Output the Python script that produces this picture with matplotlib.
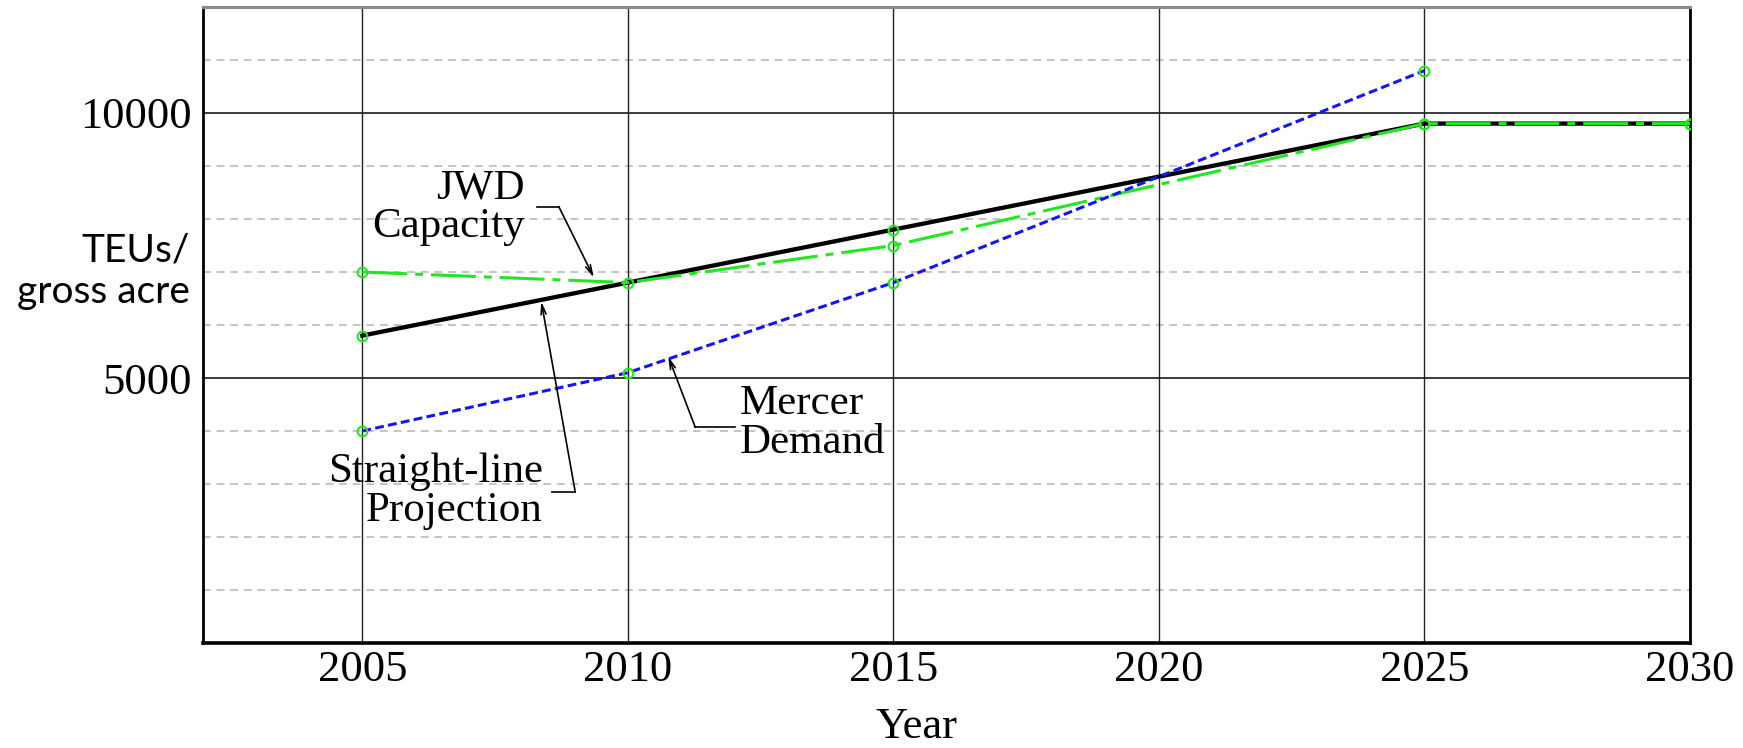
import numpy as np
import matplotlib.pyplot as plt

# data
straight_years = [2005, 2015, 2025, 2030]
straight_vals = [5800, 7800, 9800, 9800]
jwd_years = [2005, 2010, 2015, 2025, 2030]
jwd_vals = [7000, 6800, 7500, 9800, 9800]
mercer_years = [2005, 2010, 2015, 2025]
mercer_vals = [4000, 5100, 6800, 10800]

year_ticks = [2005, 2010, 2015, 2020, 2025, 2030]
value_ticks = [5000, 10000]
minor_grid = [1000, 2000, 3000, 4000, 6000, 7000, 8000, 9000, 11000]

serif = 'Liberation Serif'
green = '#22e622'

fig = plt.figure(figsize=(17.43, 7.48), dpi=100)
W, H = 1743, 748
ax = fig.add_axes([203 / W, 1 - 643 / H, (1690 - 203) / W, (643 - 7) / H])
ax.set_xlim(2002, 2030)
ax.set_ylim(0, 12000)

# grid
for v in minor_grid:
    ax.axhline(v, color='#c4c4c4', lw=1.4, ls=(0, (4, 3)), zorder=1)
for v in value_ticks:
    ax.axhline(v, color='#3a3a3a', lw=1.4, zorder=1)
for y in year_ticks:
    ax.axvline(y, color='#222222', lw=1.0, zorder=1)

# series
mk = dict(marker='o', ms=7, mfc='none', mec=green, mew=1.5)
ax.plot(straight_years, straight_vals, color='black', lw=3.1, zorder=3, **mk)
ax.plot(jwd_years, jwd_vals, color=green, lw=2.2, ls=(0, (14.7, 2.6, 2.6, 2.6)),
        zorder=4, **mk)
ax.plot(mercer_years, mercer_vals, color='#1515ee', lw=2.2, ls=(0, (2.9, 1.4)),
        zorder=5, **mk)

# spines
for s in ['left', 'right']:
    ax.spines[s].set_linewidth(2)
    ax.spines[s].set_color('black')
ax.spines['bottom'].set_linewidth(2.6)
ax.spines['top'].set_linewidth(2.2)
ax.spines['top'].set_color('#8a8a8a')

ax.set_xticks(year_ticks)
ax.set_xticklabels([str(y) for y in year_ticks], fontfamily=serif, fontsize=32)
ax.set_yticks(value_ticks)
ax.set_yticklabels([str(v) for v in value_ticks], fontfamily=serif, fontsize=32)
ax.tick_params(axis='x', length=0, pad=5)
ax.tick_params(axis='y', length=0, pad=8)

fig.text(917 / W, 1 - 727 / H, 'Year', ha='center', va='center',
         fontfamily=serif, fontsize=32)
fig.text(190 / W, 1 - 271 / H, 'TEUs/\ngross acre', ha='right', va='center',
         multialignment='right', fontfamily='Lato', fontsize=28, linespacing=1.2)

# labels with leader lines
arrow = dict(arrowstyle='->,head_length=0.7,head_width=0.18', color='black', lw=1.2,
             shrinkA=0, shrinkB=0)
tkw = dict(fontfamily=serif, fontsize=31, linespacing=1.0, zorder=6)

ax.text(2008.06, 8214, 'JWD\nCapacity', ha='right', va='center', multialignment='right', **tkw)
ax.plot([2008.29, 2008.70], [8233, 8233], color='black', lw=1.2, zorder=6)
ax.annotate('', xy=(2009.36, 6895), xytext=(2008.70, 8233), arrowprops=arrow, zorder=6)

ax.text(2008.40, 2860, 'Straight-line\nProjection', ha='right', va='center',
        multialignment='right', **tkw)
ax.plot([2008.57, 2009.01], [2845, 2845], color='black', lw=1.2, zorder=6)
ax.annotate('', xy=(2008.37, 6443), xytext=(2009.01, 2845), arrowprops=arrow, zorder=6)

ax.text(2012.11, 4145, 'Mercer\nDemand', ha='left', va='center', multialignment='left', **tkw)
ax.plot([2012.02, 2011.27], [4069, 4069], color='black', lw=1.2, zorder=6)
ax.annotate('', xy=(2010.76, 5407), xytext=(2011.27, 4069), arrowprops=arrow, zorder=6)

fig.savefig('out.png', dpi=100)
